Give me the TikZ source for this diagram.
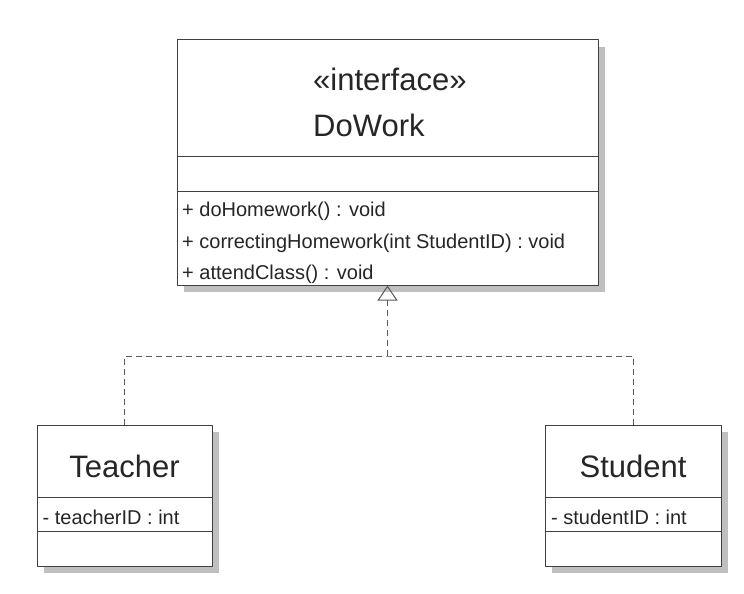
\documentclass[tikz,border=0pt]{standalone}
\usepackage{fontspec}
\setmainfont{Liberation Sans}
\usetikzlibrary{arrows.meta,shadows}
\begin{document}
\begin{tikzpicture}[x=1pt,y=-1pt,line join=round,
	umlbox/.style={draw=black!75,fill=white,line width=1pt,inner sep=0pt,general shadow={fill=black!25,shadow xshift=7pt,shadow yshift=-7pt}},
	boxline/.style={draw=black!75,line width=1pt},
	big/.style={font=\fontsize{31}{36}\selectfont,text=black!85,inner sep=0pt},
	small/.style={font=\fontsize{20}{24}\selectfont,text=black!85,inner sep=0pt,anchor=base west},
	realize/.style={draw=black!65,line width=1pt,dash pattern=on 6pt off 4pt}]
	\useasboundingbox (0,0) rectangle (744,594);
	% boxes
	\node [umlbox,minimum width=421pt,minimum height=245pt] (dowork) at (387.5,162.5) {};
	\node [umlbox,minimum width=175pt,minimum height=141pt] (teacher) at (124.5,495.5) {};
	\node [umlbox,minimum width=176pt,minimum height=141pt] (student) at (633,495.5) {};
	\draw [boxline] (dowork.west |- 0,156) -- (dowork.east |- 0,156)
		(dowork.west |- 0,191) -- (dowork.east |- 0,191)
		(teacher.west |- 0,497) -- (teacher.east |- 0,497)
		(teacher.west |- 0,531) -- (teacher.east |- 0,531)
		(student.west |- 0,497) -- (student.east |- 0,497)
		(student.west |- 0,531) -- (student.east |- 0,531);
	% texts
	\node [big,anchor=base west] (stereo) at (313,90) {«interface»};
	\node [big,anchor=base west] (dwname) at (313,136) {DoWork};
	\node [small] (m1) at (182,216.7) {+ doHomework() : void};
	\node [small] (m2) at (182,248.3) {+ correctingHomework(int StudentID) : void};
	\node [small] (m3) at (182,279.3) {+ attendClass() : void};
	\node [big,anchor=base] (tname) at (124.5,477.7) {Teacher};
	\node [small] (tattr) at (42.5,524.3) {- teacherID : int};
	\node [big,anchor=base] (sname) at (633,477) {Student};
	\node [small] (sattr) at (551,524.3) {- studentID : int};
	% realization
	\coordinate (fork) at (387.5,356);
	\draw [realize] (teacher.north) |- (fork) -| (student.north);
	\draw [realize,-{Triangle[open,width=20pt,length=15pt]}] (fork) -- (dowork.south);
\end{tikzpicture}
\end{document}
